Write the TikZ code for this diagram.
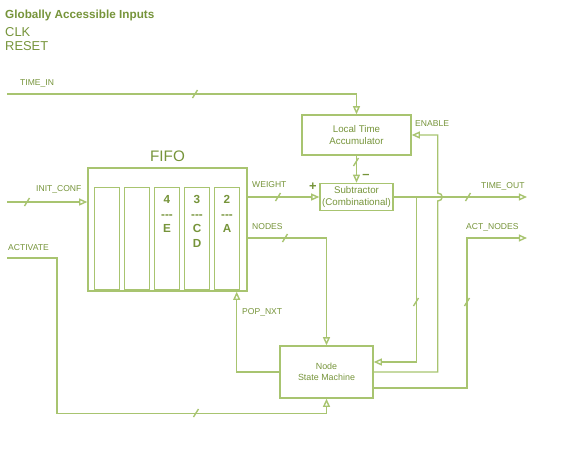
\documentclass[tikz,border=0pt]{standalone}
\usepackage{fontspec}
\setmainfont{Liberation Sans}
\usetikzlibrary{arrows.meta,positioning,calc}
\definecolor{wiregreen}{RGB}{168,196,112}
\definecolor{labelgreen}{RGB}{118,148,58}

\begin{document}
\begin{tikzpicture}[x=0.03cm, y=-0.03cm,
  every node/.style={font=\fontsize{7.3}{8}\selectfont, text=labelgreen, inner sep=0pt},
  wire/.style={draw=wiregreen, line width=1.2pt},
  sig/.style={wire, -{Triangle[open,length=7pt,width=6pt]}},
  block/.style={draw=wiregreen, line width=1.2pt, rectangle, align=center, font=\fontsize{8.3}{9.5}\selectfont},
  cell/.style={draw=wiregreen, line width=1.2pt, minimum width=0.75cm, minimum height=3.06cm, anchor=north},
  celltext/.style={align=center, font=\bfseries\fontsize{10}{12.5}\selectfont},
  lbl/.style={anchor=west}]
  \useasboundingbox (0,0) rectangle (566,467);

  % global inputs
  \node[lbl, font=\bfseries\fontsize{10}{11}\selectfont] (globtitle) at (5,15) {Globally Accessible Inputs};
  \node[lbl, font=\fontsize{11}{12}\selectfont] (clk) at (5,32) {CLK};
  \node[lbl, font=\fontsize{11}{12}\selectfont] (reset) at (5,46) {RESET};

  % blocks
  \node[block, minimum width=3.27cm, minimum height=1.2cm] (lta) at (356.5,135) {Local Time\\Accumulator};
  \node[block, minimum width=2.19cm, minimum height=0.81cm] (sub) at (356.5,197) {Subtractor\\(Combinational)};
  \node[block, minimum width=2.79cm, minimum height=1.56cm, font=\fontsize{7.6}{9.5}\selectfont] (nsm) at (326.5,372) {Node\\State Machine};
  \node[draw=wiregreen, line width=1.2pt, minimum width=4.77cm, minimum height=3.69cm] (fifo) at (167.5,229.5) {};
  \node[font=\fontsize{13}{15}\selectfont, above=4.5pt of fifo] (fifotitle) {FIFO};
  \foreach \i/\x in {1/107,2/137,3/167,4/197,5/227}
    \node[cell] (c\i) at (\x,187) {};
  \node[celltext, below=7pt of c3.north] (c3txt) {4\\{-}{-}{-}\\E};
  \node[celltext, below=7pt of c4.north] (c4txt) {3\\{-}{-}{-}\\C\\D};
  \node[celltext, below=7pt of c5.north] (c5txt) {2\\{-}{-}{-}\\A};

  % free ends
  \coordinate (timein) at (7,94);
  \coordinate (initconf) at (7,202);
  \coordinate (activate) at (7,258);
  \coordinate (timeout) at (527,197);
  \coordinate (actnodes) at (527,238);

  % connectors
  \draw[sig] (timein) -| (lta.north);
  \draw[sig] (lta.south) -- (sub.north);
  \draw[sig] (initconf) -- (initconf -| fifo.west);
  \draw[sig] (sub.west -| fifo.east) -- (sub.west);
  \draw[sig] ($(fifo.east)+(0,8.5)$) -| (nsm.north);
  \draw[sig] (nsm.west) -| ($(fifo.south east)+(-11,0)$);
  \draw[sig] (activate) -- ++(50,0) |- ($(nsm.south)+(0,15)$) -- (nsm.south);
  \draw[sig] (sub.east) -- (timeout);
  \draw[sig] ($(sub.east)+(23,0)$) |- ($(nsm.east)+(0,-10)$);
  \draw[sig] (nsm.east) -| ($(sub.east)+(44,4)$)
    .. controls +(6,0) and +(6,0) .. ($(sub.east)+(44,-4)$) |- (lta.east);
  \draw[sig] ($(nsm.east)+(0,16)$) -| ($(actnodes)+(-60,0)$) -- (actnodes);

  % bus width marks
  \foreach \px/\py in {195/94, 27/202, 278/197, 285/238, 356/162, 468/197, 416/302, 467/302, 196/413}
    \draw[wire] (\px-2.5,\py+4) -- (\px+2.5,\py-4);

  % signal labels
  \node[lbl] (timeinlbl) at (20,83) {TIME\_IN};
  \node[lbl] (initlbl) at (36,189) {INIT\_CONF};
  \node[lbl] (actlbl) at (8,248) {ACTIVATE};
  \node[lbl] (weightlbl) at (252,185) {WEIGHT};
  \node[lbl] (nodeslbl) at (252,227) {NODES};
  \node[lbl] (poplbl) at (242,312) {POP\_NXT};
  \node[lbl] (enlbl) at (415,124) {ENABLE};
  \node[lbl] (toutlbl) at (481,186) {TIME\_OUT};
  \node[lbl] (anlbl) at (466,227) {ACT\_NODES};
  \node[font=\bfseries\fontsize{11}{12}\selectfont] (plus) at (313,187) {+};
  \node[font=\bfseries\fontsize{11}{12}\selectfont] (minus) at (366,176) {--};
\end{tikzpicture}
\end{document}
